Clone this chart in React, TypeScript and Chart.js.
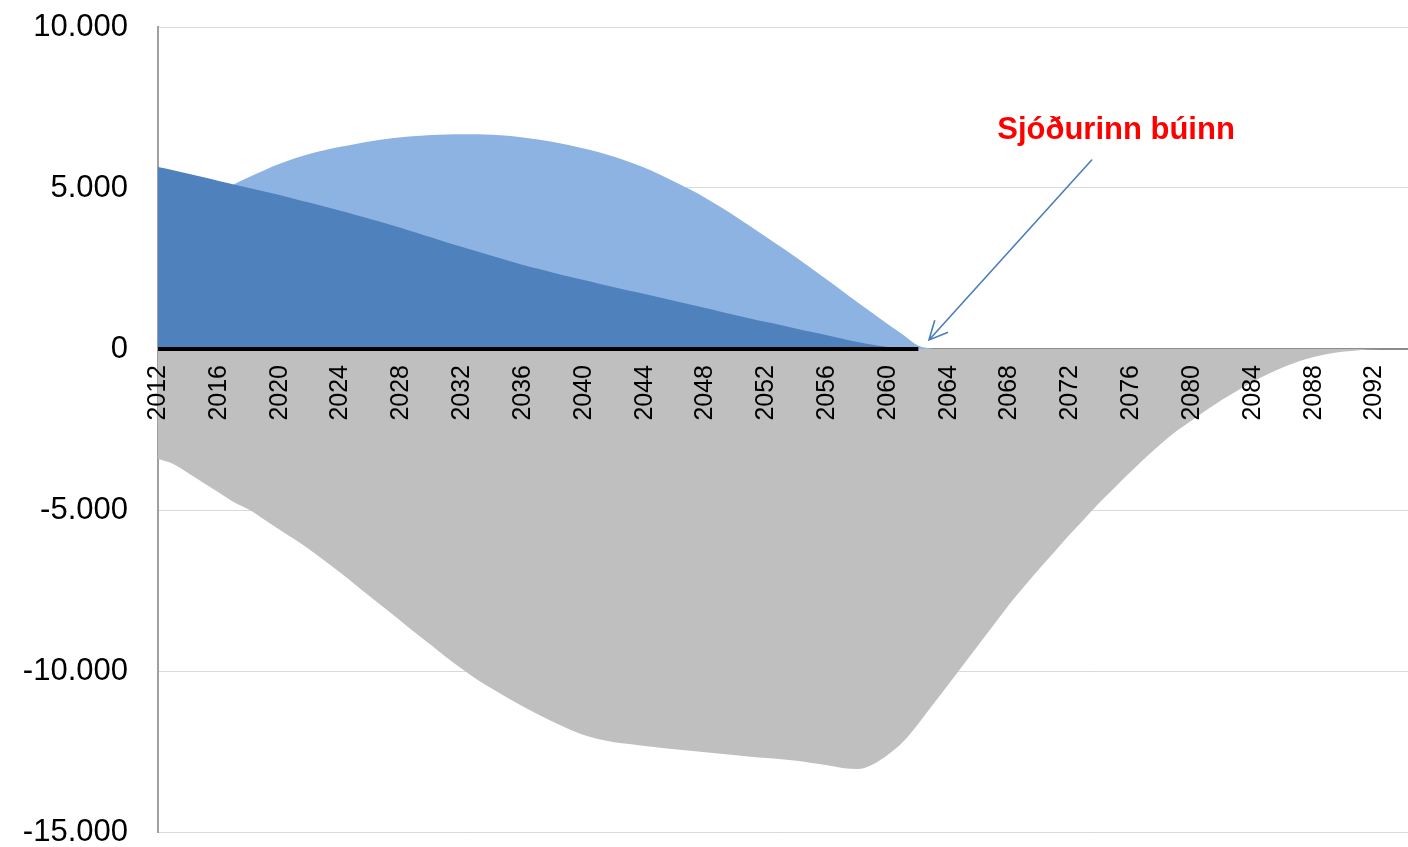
import React, { useEffect, useRef } from "react";
import { Chart, registerables } from "chart.js";

Chart.register(...registerables);

// ---- categories / axes ----
const firstYear = 2012;
const lastYear = 2094;
const xAxisMax = 2094.2;
const yTickMin = -15000;
const yTickMax = 10000;
const yTickStep = 5000;
const xTickStep = 4;

// ---- series values (millions) ----
// Dark blue: fund balance, 2012..2062
const balanceStart = 2012;
const balanceValues = [
  5650, 5550, 5440, 5330, 5220, 5110, 5000, 4890, 4780, 4660,
  4540, 4420, 4290, 4160, 4030, 3900, 3760, 3610, 3460, 3310,
  3170, 3030, 2890, 2750, 2610, 2490, 2370, 2250, 2140, 2030,
  1920, 1810, 1710, 1600, 1490, 1380, 1270, 1160, 1050, 940,
  840, 740, 630, 530, 430, 320, 220, 130, 60, 10, 0,
];

// Light blue: upper area, 2017..2063
const upperStart = 2017;
const upperValues = [
  5120, 5345, 5555, 5750, 5925, 6065, 6180, 6280,
  6370, 6450, 6520, 6575, 6615, 6645, 6665, 6672,
  6668, 6650, 6620, 6570, 6505, 6425, 6335, 6230,
  6110, 5970, 5810, 5630, 5420, 5190, 4950, 4690,
  4410, 4110, 3800, 3480, 3160, 2830, 2490, 2150,
  1800, 1450, 1110, 770, 440, 100, 0,
];

// Grey: deficit, 2012..2094
const deficitStart = 2012;
const deficitValues = [
  -3420, -3570, -3860, -4160, -4460, -4760, -4990, -5300,
  -5610, -5920, -6240, -6590, -6950, -7330, -7710, -8080, -8460, -8840,
  -9210, -9590, -9940, -10270, -10560, -10840, -11100, -11350, -11580, -11800,
  -11990, -12120, -12210, -12270, -12330, -12380, -12430, -12480, -12520, -12570,
  -12620, -12660, -12700, -12740, -12790, -12860, -12930, -13010, -13040, -12900,
  -12600, -12200, -11640, -11020, -10400, -9780, -9160, -8540, -7920, -7350,
  -6800, -6270, -5740, -5230, -4730, -4260, -3800, -3350, -2930, -2540,
  -2210, -1880, -1570, -1290, -1020, -780, -570, -390, -250, -150,
  -80, -35, -10, 0, 0,
];

// Black zero line while the fund exists
const zeroLineStart = 2012;
const zeroLineValues = Array(51).fill(0);

// ---- annotation ----
const annotationText = "Sjóðurinn búinn";
const annotationTextAt = [2075.0, 6800];
const arrowTail = [2073.4, 5870];
const arrowTip = [2062.7, 280];

const toPoints = (start: number, vals: number[]) =>
  vals.map((v, i) => ({ x: start + i, y: v }));

const formatThousands = (v: number) => {
  const s = String(Math.abs(Math.round(v))).replace(/\B(?=(\d{3})+(?!\d))/g, ".");
  return v < 0 ? "-" + s : s;
};

const FONT = "'Liberation Sans', Arial, sans-serif";

const annotationPlugin = {
  id: "sjodurAnnotation",
  afterDatasetsDraw(chart: any) {
    const { ctx, scales } = chart;
    const x = scales.x;
    const y = scales.y;
    const tx = x.getPixelForValue(arrowTip[0]);
    const ty = y.getPixelForValue(arrowTip[1]);
    const sx = x.getPixelForValue(arrowTail[0]);
    const sy = y.getPixelForValue(arrowTail[1]);
    ctx.save();
    ctx.strokeStyle = "#4a7ebb";
    ctx.lineWidth = 1.6;
    ctx.lineCap = "round";
    ctx.beginPath();
    ctx.moveTo(sx, sy);
    ctx.lineTo(tx, ty);
    const ang = Math.atan2(ty - sy, tx - sx);
    const len = 20;
    const spread = 0.45;
    ctx.moveTo(tx - len * Math.cos(ang - spread), ty - len * Math.sin(ang - spread));
    ctx.lineTo(tx, ty);
    ctx.lineTo(tx - len * Math.cos(ang + spread), ty - len * Math.sin(ang + spread));
    ctx.stroke();

    ctx.fillStyle = "#ff0000";
    ctx.font = "bold 31px " + FONT;
    ctx.textAlign = "center";
    ctx.textBaseline = "middle";
    ctx.fillText(
      annotationText,
      x.getPixelForValue(annotationTextAt[0]),
      y.getPixelForValue(annotationTextAt[1])
    );
    ctx.restore();
  },
};

export default function App() {
  const canvasRef = useRef<HTMLCanvasElement | null>(null);

  useEffect(() => {
    document.body.style.margin = "0";
    const canvas = canvasRef.current;
    if (!canvas) return;
    const chart = new Chart(canvas, {
      type: "line",
      data: {
        datasets: [
          {
            label: "zero",
            data: toPoints(zeroLineStart, zeroLineValues),
            borderColor: "#000000",
            borderWidth: 4,
            pointRadius: 0,
            fill: false,
            order: 0,
          },
          {
            label: "balance",
            data: toPoints(balanceStart, balanceValues),
            borderWidth: 0,
            borderColor: "rgba(0,0,0,0)",
            backgroundColor: "#4f81bd",
            pointRadius: 0,
            fill: "origin",
            cubicInterpolationMode: "monotone",
            order: 1,
          },
          {
            label: "upper",
            data: toPoints(upperStart, upperValues),
            borderWidth: 0,
            borderColor: "rgba(0,0,0,0)",
            backgroundColor: "#8db3e2",
            pointRadius: 0,
            fill: "origin",
            cubicInterpolationMode: "monotone",
            order: 2,
          },
          {
            label: "deficit",
            data: toPoints(deficitStart, deficitValues),
            borderWidth: 0,
            borderColor: "rgba(0,0,0,0)",
            backgroundColor: "#bfbfbf",
            pointRadius: 0,
            fill: "origin",
            cubicInterpolationMode: "monotone",
            order: 3,
          },
        ],
      },
      options: {
        animation: false,
        responsive: true,
        maintainAspectRatio: false,
        layout: { padding: { top: 27, right: 0, bottom: 15, left: 0 } },
        plugins: {
          legend: { display: false },
          tooltip: { enabled: false },
        },
        scales: {
          x: {
            type: "linear",
            position: { y: 0 } as any,
            min: firstYear,
            max: xAxisMax,
            afterFit: (s: any) => {
              s.paddingLeft = 0;
              s.paddingRight = 0;
              s.paddingTop = 0;
              s.paddingBottom = 0;
            },
            grid: { display: false, drawTicks: false },
            border: { display: false },
            ticks: {
              z: 1,
              stepSize: xTickStep,
              includeBounds: false,
              autoSkip: false,
              minRotation: 90,
              maxRotation: 90,
              padding: 16,
              color: "#000000",
              font: { family: FONT, size: 25 },
              callback: (v: any) => {
                const n = Number(v);
                return Number.isInteger(n) && (n - firstYear) % xTickStep === 0 && n <= lastYear ? String(n) : null;
              },
            },
          },
          y: {
            type: "linear",
            min: yTickMin,
            max: yTickMax,
            afterFit: (s: any) => {
              s.width = 158;
              s.paddingTop = 0;
              s.paddingBottom = 0;
            },
            grid: {
              drawTicks: false,
              color: (c: any) => (c.tick && c.tick.value === 0 ? "#8c8c8c" : "#d9d9d9"),
              lineWidth: (c: any) => (c.tick && c.tick.value === 0 ? 2 : 1),
            },
            border: { display: true, color: "#a0a0a0", width: 2 },
            ticks: {
              stepSize: yTickStep,
              padding: 30,
              color: "#000000",
              font: { family: FONT, size: 31, lineHeight: 1 },
              callback: (v: any) => formatThousands(Number(v)),
            },
          },
        },
      },
      plugins: [annotationPlugin],
    });
    return () => chart.destroy();
  }, []);

  return (
    <div style={{ width: 1408, height: 847, position: "relative" }}>
      <canvas ref={canvasRef} />
    </div>
  );
}
